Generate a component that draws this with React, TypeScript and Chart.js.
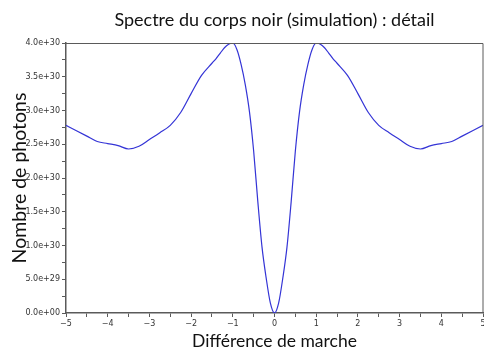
import React, { useEffect, useRef } from "react";
import { Chart, registerables } from "chart.js";

Chart.register(...registerables);

const TITLE = "Spectre du corps noir (simulation) : détail";
const X_TITLE = "Différence de marche";
const Y_TITLE = "Nombre de photons";

// Différence de marche (abscissa)
const xValues = [
  -5, -4.75, -4.5, -4.25, -4, -3.75, -3.5, -3.25, -3, -2.75, -2.5, -2.25, -2, -1.75,
  -1.5, -1.4, -1.3, -1.2, -1.1, -1, -0.9, -0.8, -0.7, -0.6, -0.5, -0.4, -0.3, -0.2, -0.1,
  0,
  0.1, 0.2, 0.3, 0.4, 0.5, 0.6, 0.7, 0.8, 0.9, 1, 1.1, 1.2, 1.3, 1.4, 1.5,
  1.75, 2, 2.25, 2.5, 2.75, 3, 3.25, 3.5, 3.75, 4, 4.25, 4.5, 4.75, 5,
];
// Nombre de photons, in units of 1e30
const yValues = [
  2.78, 2.7, 2.62, 2.54, 2.51, 2.48, 2.43, 2.47, 2.57, 2.67, 2.78, 2.97, 3.25, 3.52,
  3.7, 3.77, 3.85, 3.93, 3.98, 4.0, 3.9, 3.68, 3.38, 2.98, 2.4, 1.65, 0.98, 0.52, 0.15,
  0,
  0.15, 0.52, 0.98, 1.65, 2.4, 2.98, 3.38, 3.68, 3.9, 4.0, 3.98, 3.93, 3.85, 3.77, 3.7,
  3.52, 3.25, 2.97, 2.78, 2.67, 2.57, 2.47, 2.43, 2.48, 2.51, 2.54, 2.62, 2.7, 2.78,
];
const Y_UNIT = 1e30;

const X_MIN = -5, X_MAX = 5, X_STEP = 0.5;
const Y_MIN = 0, Y_MAX = 4e30, Y_STEP = 2.5e29;

const AXIS_COLOR = "#5a5a5a";
const LINE_COLOR = "rgb(52,52,214)";

function fmtExp(v: number): string {
  const [m, e] = v.toExponential(1).split("e");
  const sign = e[0] === "-" ? "-" : "+";
  const digits = e.replace(/^[+-]/, "").padStart(2, "0");
  return `${m}e${sign}${digits}`;
}

const framePlugin = {
  id: "frame",
  afterDatasetsDraw(chart: any) {
    const { ctx, chartArea } = chart;
    ctx.save();
    ctx.strokeStyle = AXIS_COLOR;
    ctx.lineWidth = 1;
    ctx.beginPath();
    ctx.moveTo(chartArea.left, chartArea.top + 0.5);
    ctx.lineTo(chartArea.right, chartArea.top + 0.5);
    ctx.lineTo(chartArea.right, chartArea.bottom);
    ctx.stroke();
    ctx.restore();
  },
};

export default function App() {
  const ref = useRef<HTMLCanvasElement | null>(null);

  useEffect(() => {
    document.body.style.margin = "0";
    const canvas = ref.current;
    if (!canvas) return;
    const data = xValues.map((x, i) => ({ x, y: yValues[i] * Y_UNIT }));
    const chart = new Chart(canvas, {
      type: "line",
      data: {
        datasets: [
          {
            data,
            borderColor: LINE_COLOR,
            borderWidth: 1.2,
            pointRadius: 0,
            fill: false,
            cubicInterpolationMode: "monotone",
          },
        ],
      },
      options: {
        responsive: false,
        animation: false,
        layout: { padding: { left: 0, right: 1, top: 0, bottom: 0 } },
        plugins: {
          legend: { display: false },
          tooltip: { enabled: false },
          title: {
            display: true,
            fullSize: false,
            text: TITLE,
            color: "#111111",
            font: { family: "Lato", size: 18, weight: "normal" },
            padding: { top: 9, bottom: 12.4 },
          },
        },
        scales: {
          x: {
            type: "linear",
            min: X_MIN,
            max: X_MAX,
            afterFit: (s: any) => {
              s.height = 36;
              s.paddingLeft = 0;
              s.paddingRight = 0;
            },
            border: { color: AXIS_COLOR, width: 1.5 },
            grid: { drawOnChartArea: false, drawTicks: true, tickLength: 4, color: AXIS_COLOR },
            ticks: {
              stepSize: X_STEP,
              autoSkip: false,
              maxRotation: 0,
              padding: 2,
              color: "#333333",
              font: { family: "DejaVu Sans", size: 8 },
              callback: (v: any) => {
                const n = Number(v);
                if (Math.abs(n - Math.round(n)) > 1e-9) return "";
                const r = Math.round(n);
                return r < 0 ? "\u2212" + Math.abs(r) : String(r);
              },
            },
            title: {
              display: true,
              text: X_TITLE,
              color: "#111111",
              font: { family: "Lato", size: 17.5, weight: "normal" },
              padding: { top: 0, bottom: -3 },
            },
          },
          y: {
            type: "linear",
            min: Y_MIN,
            max: Y_MAX,
            afterFit: (s: any) => {
              s.width = 66;
            },
            border: { color: AXIS_COLOR, width: 1.5 },
            grid: { drawOnChartArea: false, drawTicks: true, tickLength: 4, color: AXIS_COLOR },
            ticks: {
              stepSize: Y_STEP,
              autoSkip: false,
              padding: 2,
              color: "#333333",
              font: { family: "DejaVu Sans", size: 8 },
              callback: (v: any) => {
                const n = Number(v);
                const k = Math.round(n / Y_STEP);
                if (k % 2 !== 0) return "";
                return fmtExp(k * Y_STEP);
              },
            },
            title: {
              display: true,
              text: Y_TITLE,
              color: "#111111",
              font: { family: "Lato", size: 19.5, weight: "normal" },
              padding: { top: 8, bottom: 0 },
            },
          },
        },
      },
      plugins: [framePlugin],
    } as any);
    return () => chart.destroy();
  }, []);

  return (
    <div style={{ width: 484, height: 349 }}>
      <canvas ref={ref} width={484} height={349} style={{ display: "block" }} />
    </div>
  );
}
